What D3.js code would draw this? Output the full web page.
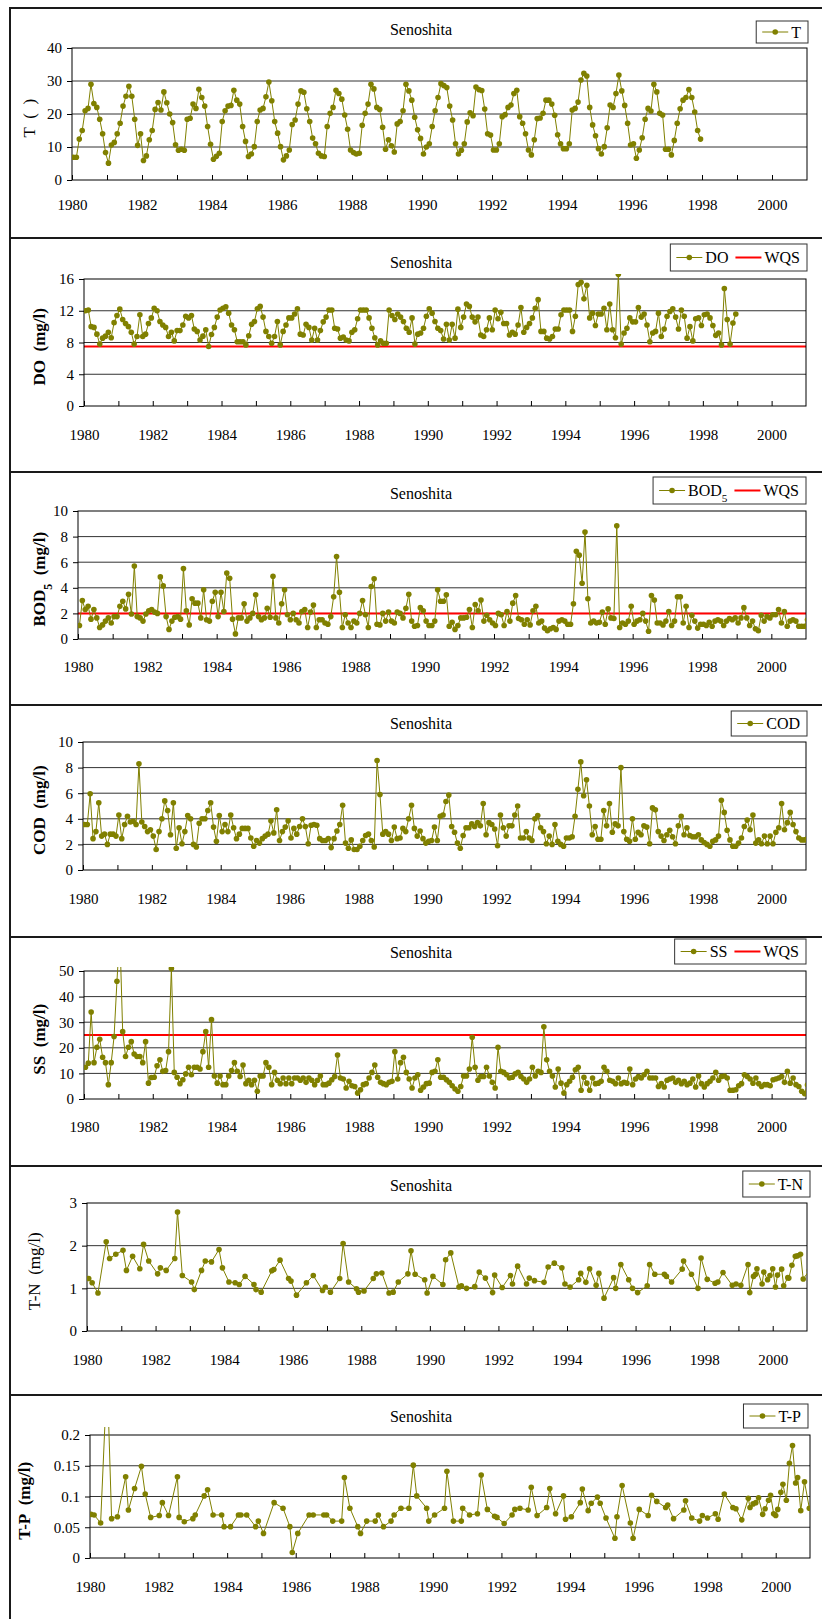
<!DOCTYPE html>
<html>
<head>
<meta charset="utf-8">
<script src="https://cdn.jsdelivr.net/npm/d3@7"></script>
<style>
  body { margin: 0; background: #fff; }
</style>
</head>
<body>
<svg id="chart"></svg>
<script>
// monthly water temperature, Jan 1980 - Dec 1997
let tempT = [
  6.9, 6.9, 12.4, 15, 21, 21.7, 29, 23.2, 22, 18.4, 14, 8.3,
  5.1, 10.6, 11.4, 14, 17.2, 22.4, 25.4, 28.4, 25.4, 18.4, 10.5, 14,
  5.9, 7.3, 12.2, 15, 21.4, 23.5, 21.2, 26.7, 23.4, 20, 17.4, 10.7,
  9, 9.3, 9, 18.4, 18.7, 23, 21.7, 27.5, 25, 22.4, 16.2, 10.8,
  6.3, 7.2, 8.1, 17.7, 21, 22.4, 22.6, 27.2, 24.2, 23, 16.2, 11.7,
  7.1, 7.9, 10.1, 17.7, 21.2, 21.7, 25.2, 29.7, 24, 17.7, 14.2, 10.1,
  6.1, 7.3, 9.1, 16.8, 18.2, 23, 27, 26.6, 21.6, 17.7, 12.7, 11,
  8.1, 7.3, 7.1, 16.2, 20.2, 22, 27.2, 26.2, 24.5, 19.7, 15.4, 9.1,
  8.3, 7.9, 8.1, 16.6, 20.2, 23, 29, 27.6, 22, 21.4, 16, 9.3,
  12.2, 10.4, 8.5, 17, 17.7, 21, 29, 27, 24.2, 19, 15.2, 12.6,
  7.9, 10, 11, 16.2, 21, 25, 29.2, 28.6, 28, 22.4, 18.2, 11,
  7.9, 9, 11, 17.6, 20.4, 19.5, 28.2, 27.4, 27.1, 21.5, 14, 13.6,
  9.1, 9.1, 11, 19.2, 19.8, 22, 22.7, 26.2, 27.2, 19.2, 17.2, 14,
  9.1, 7.6, 12.2, 18.6, 18.8, 20.2, 24.2, 24.2, 23, 19.6, 13.7, 11,
  9.5, 9.5, 11, 21.2, 21.7, 23.6, 30.3, 32.3, 31.5, 22, 16.7, 13.4,
  9.5, 7.9, 10.1, 15.8, 22.7, 22, 26.2, 31.8, 27, 22.6, 17.2, 10.6,
  11, 6.6, 9.1, 12.8, 18.4, 21.7, 20.9, 29, 26.7, 20.2, 19.7, 9.3,
  9.3, 7.6, 12, 17.2, 21.6, 24.2, 25, 27.4, 25, 20.6, 15, 12.4
]

// monthly DO (mg/l), Jan 1980 - Dec 1998
let doVals = [
  12.0, 12.1, 10.0, 9.9, 9.05, 7.8, 8.55, 8.8, 9.3, 8.6, 10.5, 11.4,
  12.2, 10.9, 10.4, 10.0, 9.3, 7.8, 8.75, 11.5, 8.75, 9.05, 10.4, 11.1,
  12.3, 12.0, 10.65, 10.2, 9.9, 8.75, 9.3, 8.2, 9.5, 9.5, 10.2, 11.3,
  11.1, 11.4, 9.7, 9.4, 8.3, 8.8, 9.6, 7.5, 9.0, 9.9, 11.2, 12.1,
  12.3, 12.5, 11.7, 10.2, 9.6, 8.1, 8.1, 8.1, 7.7, 8.85, 10.3, 10.65,
  12.25, 12.55, 11.2, 9.4, 8.75, 7.9, 8.75, 10.65, 7.7, 9.4, 10.2, 11.1,
  11.1, 11.6, 12.25, 9.05, 8.95, 10.3, 9.9, 8.3, 9.8, 8.3, 9.5, 10.6,
  11.2, 12.1, 12.1, 9.8, 9.7, 8.55, 8.7, 8.3, 8.2, 9.3, 9.6, 11.0,
  12.1, 12.1, 12.1, 11.1, 9.8, 8.6, 7.7, 8.2, 7.9, 7.9, 12.1, 11.4,
  10.9, 11.6, 11.2, 10.65, 9.8, 9.3, 11.1, 7.8, 9.05, 9.2, 9.8, 11.3,
  12.25, 11.7, 10.65, 9.8, 9.5, 8.45, 10.3, 8.3, 10.3, 8.55, 12.2, 9.9,
  11.2, 12.85, 12.55, 11.2, 10.6, 11.2, 8.95, 8.75, 9.6, 11.1, 9.6, 12.1,
  11.0, 11.8, 10.4, 10.4, 8.95, 9.3, 9.05, 10.2, 12.4, 9.3, 9.9, 10.4,
  11.1, 12.3, 13.4, 9.4, 9.4, 8.55, 8.45, 8.75, 9.7, 9.7, 11.5, 12.1,
  12.1, 12.1, 9.4, 11.3, 15.3, 15.6, 13.5, 15.2, 11.1, 11.7, 10.15, 11.6,
  11.6, 12.3, 9.6, 12.85, 9.6, 8.6, 16.6, 7.8, 9.2, 9.8, 11.1, 10.6,
  10.6, 12.4, 11.2, 11.6, 10.2, 8.1, 9.2, 9.4, 11.7, 8.75, 9.7, 11.3,
  11.9, 12.25, 11.2, 9.7, 12.1, 11.3, 8.55, 10.0, 8.2, 11.0, 11.1, 10.15,
  11.5, 11.6, 11.1, 10.15, 8.9, 9.2, 7.7, 14.8, 10.9, 7.8, 10.45, 11.6
]

// monthly BOD5 (mg/l), Jan 1980 - Jan 2001
let bodVals = [
  1.06, 3.0, 2.3, 2.55, 1.55, 2.3, 1.65, 0.9, 1.1, 1.4, 1.65, 1.25,
  1.75, 1.75, 2.55, 2.95, 2.35, 3.5, 1.95, 5.7, 1.75, 1.65, 1.4, 1.95,
  2.2, 2.3, 2.1, 2.0, 4.85, 4.15, 1.75, 0.75, 1.4, 1.7, 1.75, 1.55,
  5.5, 2.2, 1.1, 3.15, 2.8, 2.8, 1.65, 3.85, 1.5, 1.4, 2.95, 3.65,
  1.75, 3.65, 2.15, 5.15, 4.75, 1.55, 0.4, 1.65, 1.65, 2.75, 1.4, 1.65,
  2.0, 3.45, 1.75, 1.5, 1.65, 2.4, 1.7, 4.9, 1.65, 1.25, 2.75, 3.85,
  1.9, 1.5, 2.0, 1.5, 1.25, 2.15, 2.3, 0.9, 2.1, 2.65, 0.9, 1.5,
  1.5, 1.25, 1.15, 1.75, 3.3, 6.45, 3.65, 0.9, 1.9, 1.25, 0.9, 1.4,
  1.25, 2.0, 3.0, 1.9, 0.9, 4.1, 4.7, 1.15, 1.1, 2.0, 1.4, 2.1,
  1.4, 1.25, 2.1, 2.0, 1.65, 2.4, 3.5, 1.4, 1.0, 1.05, 2.45, 2.2,
  1.4, 1.05, 1.05, 1.4, 3.85, 2.95, 2.95, 3.45, 1.0, 1.3, 0.75, 1.05,
  1.65, 1.65, 1.7, 2.3, 0.9, 2.7, 2.2, 3.05, 1.4, 1.85, 1.5, 1.25,
  1.05, 2.0, 1.9, 1.05, 2.15, 1.4, 2.8, 3.4, 1.6, 1.5, 1.15, 1.5,
  1.1, 2.2, 2.55, 1.25, 1.4, 0.85, 0.65, 0.8, 0.9, 0.75, 1.4, 1.5,
  1.4, 1.15, 1.15, 2.75, 6.85, 6.55, 4.35, 8.35, 3.15, 1.25, 1.4, 1.25,
  1.3, 2.1, 1.15, 2.35, 1.65, 1.6, 8.85, 0.9, 1.25, 1.15, 1.4, 2.55,
  1.15, 1.4, 1.5, 2.0, 1.4, 0.6, 3.4, 3.05, 1.25, 1.25, 1.1, 1.4,
  2.15, 1.05, 1.4, 3.3, 3.3, 1.25, 2.55, 0.9, 1.85, 1.4, 0.85, 1.15,
  1.15, 1.05, 1.3, 1.0, 1.4, 1.5, 1.4, 1.05, 1.4, 1.6, 1.5, 1.65,
  1.25, 1.65, 2.45, 1.65, 1.05, 1.4, 0.8, 0.65, 1.85, 1.4, 1.75, 1.65,
  1.9, 1.9, 2.3, 1.25, 2.15, 1.0, 1.4, 1.5, 1.4, 1.0, 1.0, 1.0,
  1.5
]

// monthly COD (mg/l), Jan 1980 - Jan 2001
let codVals = [
  3.55, 3.55, 5.95, 2.45, 3.0, 5.25, 2.65, 2.8, 2.0, 2.8, 2.8, 2.65,
  4.3, 2.45, 3.55, 4.2, 3.75, 3.8, 3.55, 8.3, 3.75, 3.4, 3.0, 3.15,
  2.65, 1.6, 3.0, 4.0, 5.4, 4.65, 2.75, 5.25, 1.7, 3.3, 2.05, 3.0,
  4.25, 4.0, 2.0, 1.8, 3.65, 4.0, 4.0, 4.65, 5.25, 3.35, 2.25, 4.25,
  3.0, 3.55, 3.0, 4.3, 3.3, 2.45, 2.8, 3.25, 3.25, 3.25, 2.5, 1.85,
  2.3, 2.1, 2.45, 2.65, 2.8, 3.85, 2.9, 4.7, 2.3, 3.0, 3.35, 3.85,
  2.5, 3.25, 2.8, 3.4, 4.0, 3.4, 2.05, 3.5, 3.55, 3.5, 2.45, 2.3,
  2.3, 2.45, 1.75, 2.45, 3.05, 3.55, 5.05, 2.1, 1.7, 2.35, 1.6, 1.6,
  1.85, 2.3, 2.7, 2.8, 2.3, 1.8, 8.55, 5.9, 2.8, 3.0, 2.8, 2.3,
  3.35, 2.45, 2.5, 3.25, 3.0, 4.0, 5.05, 3.25, 2.65, 3.05, 2.45, 2.1,
  2.25, 2.3, 3.35, 2.3, 4.2, 4.3, 5.35, 5.85, 3.4, 2.95, 2.1, 1.7,
  2.7, 3.3, 3.3, 3.6, 3.4, 3.7, 3.45, 5.2, 2.75, 3.7, 3.55, 3.2,
  1.9, 4.3, 3.3, 2.65, 3.45, 3.45, 4.3, 5.0, 2.5, 2.5, 3.0, 2.5,
  2.3, 4.0, 4.25, 3.3, 3.0, 2.05, 2.65, 2.0, 3.55, 2.25, 2.0, 1.85,
  2.5, 2.5, 2.6, 4.2, 6.3, 8.45, 5.8, 7.05, 5.0, 2.75, 3.4, 2.4,
  2.4, 4.65, 3.45, 5.2, 2.95, 3.6, 3.45, 8.0, 3.0, 2.4, 2.25, 4.0,
  2.4, 2.95, 2.75, 3.45, 3.35, 2.05, 4.85, 4.7, 3.0, 2.65, 2.3, 2.75,
  3.1, 2.6, 2.05, 3.45, 4.2, 2.75, 3.3, 2.7, 2.6, 2.6, 2.75, 2.35,
  2.15, 2.0, 1.85, 2.25, 2.35, 2.65, 5.45, 4.5, 3.1, 2.35, 1.85, 1.85,
  2.1, 2.5, 3.4, 3.9, 3.15, 4.3, 2.1, 2.35, 2.05, 2.65, 2.05, 2.65,
  2.05, 2.95, 3.3, 5.2, 3.15, 3.7, 4.5, 3.55, 3.0, 2.5, 2.35, 2.35,
  2.45
]

// monthly SS (mg/l), Jan 1980 - Jan 2001
let ssVals = [
  12.4, 14, 34, 14.2, 20.2, 23.3, 16.3, 14.2, 5.6, 14.2, 24.4, 46,
  65, 26.3, 16.6, 20.2, 22.4, 17.6, 16.6, 16.6, 14.2, 22.4, 6.2, 8.4,
  8.5, 13, 15.3, 10.8, 11.1, 18.5, 51, 10.4, 8.5, 6, 7.5, 9.8,
  12.4, 9.5, 12.4, 12.4, 11.7, 18.5, 26.3, 12.4, 31, 9, 6.2, 9,
  5.6, 5.6, 9, 11.1, 14.2, 10.8, 8.8, 13.3, 6, 7.3, 5.6, 7.3,
  3, 9, 9, 14.2, 12.4, 5.6, 10.4, 7.3, 6, 8.2, 6, 8.2,
  6, 8.2, 8.2, 7.3, 8.2, 6.5, 8.2, 7.3, 5.6, 7.3, 9, 5.6,
  5.6, 6.2, 7.5, 8.8, 17.2, 8.2, 7.8, 4.3, 6.9, 5.2, 4.9, 2.3,
  3.6, 5.6, 6, 8.2, 10.4, 13.3, 8.5, 6.5, 6, 5.6, 6.5, 6.9,
  18.5, 7.8, 14.2, 16.3, 10.4, 7.8, 4.3, 8.2, 9.5, 3.4, 4.7, 6,
  6.2, 10.4, 10.8, 15.3, 8.5, 8.5, 7.5, 6.5, 5.2, 3.9, 3, 4.9,
  9, 9, 11.7, 24.1, 12.4, 7.3, 8.8, 8.8, 12.4, 9, 6.5, 4.3,
  20.2, 10.8, 10.4, 9.5, 8.2, 8.5, 9.8, 10.4, 8.8, 7.8, 6.5, 7.8,
  12.4, 9, 10.8, 10.4, 28.2, 15.3, 10.8, 9, 4.7, 11.7, 6.2, 2.3,
  5.6, 6.9, 8.5, 11.4, 12.4, 3.4, 8.5, 6.2, 3.4, 8.2, 6, 6.2,
  6.9, 12.4, 10.8, 7.3, 6.9, 6, 8.2, 6, 6.5, 6.2, 11.7, 5.6,
  7.8, 8.8, 8.2, 9.5, 10.8, 8.2, 8.2, 8.2, 4.9, 6, 4.7, 7.3,
  7.8, 8.2, 6.5, 7.3, 6, 6.9, 5.6, 6.2, 7.8, 4.7, 9, 6,
  4.7, 6, 6.9, 8.2, 10.4, 7.3, 8.8, 9, 8.2, 3.4, 3.4, 3.6,
  5.2, 6, 9.5, 8.8, 7.8, 6.2, 8.2, 6, 4.9, 5.6, 5.6, 5.2,
  7.5, 7.8, 8.2, 8.8, 6.5, 10.8, 6.2, 8.2, 5.6, 4.9, 3, 2.1,
  5.5
]

// T-N (mg/l), irregular sampling: [decimal year, value]
let tnData = [
  [1980.05, 1.23], [1980.15, 1.13], [1980.32, 0.89], [1980.56, 2.09], [1980.66, 1.70], [1980.84, 1.80],
  [1981.05, 1.89], [1981.15, 1.42], [1981.33, 1.75], [1981.54, 1.46], [1981.65, 2.03], [1981.80, 1.64],
  [1982.06, 1.34], [1982.14, 1.48], [1982.31, 1.42], [1982.56, 1.70], [1982.64, 2.79], [1982.78, 1.30],
  [1983.05, 1.15], [1983.13, 0.97], [1983.34, 1.42], [1983.45, 1.64], [1983.63, 1.62], [1983.85, 1.91], [1983.95, 1.48],
  [1984.14, 1.15], [1984.32, 1.13], [1984.44, 1.09], [1984.61, 1.28], [1984.87, 1.09], [1984.93, 0.97],
  [1985.08, 0.91], [1985.39, 1.41], [1985.45, 1.44], [1985.63, 1.66], [1985.88, 1.23], [1985.95, 1.17],
  [1986.11, 0.84], [1986.40, 1.13], [1986.60, 1.30], [1986.87, 0.95], [1986.95, 1.03],
  [1987.10, 0.91], [1987.37, 1.23], [1987.47, 2.05], [1987.63, 1.15], [1987.86, 0.99], [1987.92, 0.91],
  [1988.08, 0.94], [1988.35, 1.23], [1988.44, 1.34], [1988.60, 1.36], [1988.81, 0.89], [1988.93, 0.91],
  [1989.08, 1.15], [1989.36, 1.34], [1989.45, 1.88], [1989.57, 1.33], [1989.85, 1.20], [1989.92, 0.89],
  [1990.09, 1.28], [1990.38, 1.09], [1990.46, 1.67], [1990.61, 1.83], [1990.85, 1.03], [1990.92, 1.06],
  [1991.07, 1.00], [1991.31, 1.04], [1991.44, 1.38], [1991.62, 1.24], [1991.83, 0.90], [1991.89, 1.31],
  [1992.11, 1.02], [1992.35, 1.30], [1992.41, 1.10], [1992.56, 1.52], [1992.82, 1.10], [1992.90, 1.24],
  [1993.05, 1.18], [1993.33, 1.14], [1993.45, 1.50], [1993.63, 1.59], [1993.85, 1.48], [1993.94, 1.10],
  [1994.09, 1.03], [1994.34, 1.20], [1994.40, 1.35], [1994.55, 1.14], [1994.66, 1.46], [1994.85, 1.07], [1994.93, 1.35],
  [1995.08, 0.77], [1995.36, 1.25], [1995.42, 1.00], [1995.57, 1.56], [1995.80, 1.20], [1995.91, 1.00],
  [1996.06, 0.90], [1996.34, 1.06], [1996.41, 1.56], [1996.56, 1.33], [1996.84, 1.33], [1996.90, 1.28],
  [1997.05, 1.15], [1997.36, 1.45], [1997.40, 1.64], [1997.63, 1.33], [1997.82, 1.00], [1997.91, 1.71],
  [1998.09, 1.21], [1998.32, 1.12], [1998.40, 1.15], [1998.55, 1.37], [1998.82, 1.07], [1998.93, 1.10],
  [1999.07, 1.07], [1999.28, 1.56], [1999.33, 0.90], [1999.44, 1.28], [1999.50, 1.33], [1999.54, 1.46],
  [1999.69, 1.10], [1999.74, 1.38], [1999.85, 1.20], [1999.92, 1.30],
  [2000.00, 1.46], [2000.08, 1.03], [2000.14, 1.31], [2000.26, 1.45], [2000.32, 1.06], [2000.44, 1.25],
  [2000.47, 1.24], [2000.56, 1.54], [2000.66, 1.75], [2000.72, 1.76], [2000.81, 1.80], [2000.89, 1.22],
  [2001.07, 1.42]
]

// T-P (mg/l), irregular sampling: [decimal year, value]
let tpData = [
  [1980.03, 0.071], [1980.12, 0.070], [1980.31, 0.057], [1980.50, 0.30], [1980.63, 0.064], [1980.80, 0.067],
  [1981.04, 0.132], [1981.12, 0.078], [1981.30, 0.113], [1981.50, 0.149], [1981.61, 0.104], [1981.77, 0.066],
  [1982.02, 0.069], [1982.11, 0.090], [1982.29, 0.069], [1982.55, 0.132], [1982.60, 0.066], [1982.75, 0.059],
  [1983.00, 0.064], [1983.07, 0.070], [1983.33, 0.101], [1983.43, 0.111], [1983.59, 0.070], [1983.84, 0.070], [1983.91, 0.051],
  [1984.10, 0.051], [1984.33, 0.070], [1984.40, 0.070], [1984.57, 0.070], [1984.83, 0.051], [1984.91, 0.060],
  [1985.06, 0.040], [1985.37, 0.090], [1985.63, 0.081], [1985.83, 0.051], [1985.90, 0.009],
  [1986.06, 0.040], [1986.39, 0.070], [1986.51, 0.070], [1986.82, 0.070], [1986.90, 0.070],
  [1987.08, 0.060], [1987.34, 0.060], [1987.42, 0.131], [1987.58, 0.081], [1987.81, 0.051], [1987.89, 0.040],
  [1988.07, 0.060], [1988.32, 0.060], [1988.41, 0.070], [1988.56, 0.051], [1988.78, 0.060], [1988.87, 0.070],
  [1989.07, 0.081], [1989.30, 0.081], [1989.43, 0.151], [1989.53, 0.101], [1989.82, 0.081], [1989.88, 0.060],
  [1990.05, 0.070], [1990.34, 0.081], [1990.41, 0.141], [1990.60, 0.060], [1990.83, 0.060], [1990.87, 0.081],
  [1991.07, 0.070], [1991.30, 0.072], [1991.41, 0.135], [1991.59, 0.079], [1991.80, 0.068], [1991.87, 0.066],
  [1992.08, 0.056], [1992.31, 0.070], [1992.39, 0.079], [1992.54, 0.081], [1992.78, 0.078], [1992.87, 0.115],
  [1993.04, 0.069], [1993.32, 0.082], [1993.41, 0.113], [1993.58, 0.072], [1993.81, 0.101], [1993.87, 0.063],
  [1994.04, 0.067], [1994.30, 0.090], [1994.36, 0.112], [1994.53, 0.077], [1994.62, 0.089], [1994.80, 0.099], [1994.88, 0.089],
  [1995.05, 0.065], [1995.31, 0.032], [1995.37, 0.067], [1995.52, 0.118], [1995.76, 0.057], [1995.84, 0.032],
  [1996.02, 0.079], [1996.28, 0.069], [1996.38, 0.102], [1996.53, 0.092], [1996.79, 0.082], [1996.85, 0.086],
  [1997.02, 0.064], [1997.32, 0.078], [1997.37, 0.093], [1997.55, 0.065], [1997.78, 0.060], [1997.86, 0.069],
  [1998.01, 0.065], [1998.24, 0.072], [1998.32, 0.063], [1998.50, 0.104], [1998.75, 0.082], [1998.84, 0.080],
  [1999.01, 0.062], [1999.20, 0.097], [1999.25, 0.082], [1999.34, 0.088], [1999.42, 0.090], [1999.50, 0.098],
  [1999.62, 0.071], [1999.69, 0.080], [1999.79, 0.094], [1999.85, 0.102], [1999.94, 0.072],
  [2000.00, 0.069], [2000.06, 0.079], [2000.15, 0.107], [2000.21, 0.120], [2000.31, 0.094], [2000.40, 0.154],
  [2000.49, 0.183], [2000.58, 0.122], [2000.64, 0.131], [2000.73, 0.077], [2000.84, 0.124], [2000.98, 0.081]
]

// water quality standards
let wqsDO = 7.5
let wqsBOD = 2
let wqsSS = 25

let yearDomain = [1980, 2001]
let stationName = 'Senoshita'
let mgl = ['(mg/l)']

let olive = '#808000'
let red = '#ff0000'
let serif = "'Liberation Serif', 'Times New Roman', 'Noto Sans CJK JP'"

function monthly (values) {
  return values.map((v, i) => ({t: 1980 + (i + 0.5) / 12, v: v}))
}

function pairs (list) {
  return list.map(d => ({t: d[0], v: d[1]}))
}

// layout of the seven stacked panels
let panels = [
  {data: monthly(tempT), yMax: 40, yStep: 10, frame: [8, 238], plot: [72, 48, 807, 180],
    titleY: 29, xPad: 19, yTitleX: 29, yName: 'T', yUnit: ['(', ')'], bold: false,
    legend: [['T', 'series']], legendBox: [808, 21, 22], over: 4},
  {data: monthly(doVals), yMax: 16, yStep: 4, wqs: wqsDO, frame: [238, 472], plot: [84, 279, 806, 406],
    titleY: 262, xPad: 23, yTitleX: 39, yName: 'DO', yUnit: mgl, bold: true,
    legend: [['DO', 'series'], ['WQS', 'wqs']], legendBox: [807, 244, 27], over: 5},
  {data: monthly(bodVals), yMax: 10, yStep: 2, wqs: wqsBOD, frame: [472, 705], plot: [78, 511, 806, 639],
    titleY: 493, xPad: 22, yTitleX: 39, yName: 'BOD_5', yUnit: mgl, bold: true,
    legend: [['BOD_5', 'series'], ['WQS', 'wqs']], legendBox: [806, 477, 27], over: 4},
  {data: monthly(codVals), yMax: 10, yStep: 2, frame: [705, 937], plot: [83, 742, 806, 870],
    titleY: 723, xPad: 23, yTitleX: 39, yName: 'COD', yUnit: mgl, bold: true,
    legend: [['COD', 'series']], legendBox: [807, 711, 25], over: 4},
  {data: monthly(ssVals), yMax: 50, yStep: 10, wqs: wqsSS, frame: [937, 1166], plot: [84, 971, 806, 1099],
    titleY: 952, xPad: 22, yTitleX: 39, yName: 'SS', yUnit: mgl, bold: true,
    legend: [['SS', 'series'], ['WQS', 'wqs']], legendBox: [806, 939, 25], over: 4},
  {data: pairs(tnData), yMax: 3, yStep: 1, frame: [1166, 1395], plot: [87, 1203, 807, 1331],
    titleY: 1185, xPad: 23, yTitleX: 34, yName: 'T-N', yUnit: mgl, bold: false,
    legend: [['T-N', 'series']], legendBox: [810, 1171, 26], over: 4},
  {data: pairs(tpData), yMax: 0.2, yStep: 0.05, frame: [1395, 1630], plot: [90, 1435, 810, 1558],
    titleY: 1416, xPad: 23, yTitleX: 24, yName: 'T-P', yUnit: mgl, bold: true, fmt: d => d3.format('.2~f')(d),
    legend: [['T-P', 'series']], legendBox: [808, 1404, 24], over: 8}
]

// write a label, "_5" becomes a subscript
function setLabel (sel, str) {
  let parts = str.split('_')
  sel.append('tspan').text(parts[0])
  if (parts.length > 1) {
    sel.append('tspan').attr('baseline-shift', 'sub').attr('font-size', '70%').text(parts[1][0])
    if (parts[1].length > 1) sel.append('tspan').text(parts[1].slice(1))
  }
}

function drawLegend (g, p) {
  let lg = g.append('g')
  let box = lg.append('rect')
  let h = p.legendBox[2]
  let pos = 6
  p.legend.forEach(function (item) {
    let col = item[1] === 'wqs' ? red : olive
    lg.append('line')
      .attr('x1', pos).attr('x2', pos + 26)
      .attr('y1', h / 2).attr('y2', h / 2)
      .attr('stroke', col)
      .attr('stroke-width', item[1] === 'wqs' ? 2 : 1)
    if (item[1] === 'series') {
      lg.append('circle').attr('cx', pos + 13).attr('cy', h / 2).attr('r', 2.8).attr('fill', olive)
    }
    let t = lg.append('text')
      .attr('x', pos + 29).attr('y', h / 2)
      .attr('dy', '0.35em')
      .attr('font-size', 16)
      .attr('font-family', serif)
    setLabel(t, item[0])
    pos += 29 + t.node().getComputedTextLength() + 7
  })
  box.attr('width', pos).attr('height', h)
    .attr('fill', '#fff').attr('stroke', '#333').attr('stroke-width', 1)
  lg.attr('transform', 'translate(' + (p.legendBox[0] - pos) + ',' + p.legendBox[1] + ')')
}

// rotated axis title; the unit brackets are set wide apart, Japanese style
function drawYTitle (g, p) {
  let [x0, y0, x1, y1] = p.plot
  let size = 17
  let yg = g.append('g')
    .attr('transform', 'translate(' + p.yTitleX + ',' + (y0 + y1) / 2 + ') rotate(-90)')
  let yt = yg.append('text')
    .attr('dy', '0.35em')
    .attr('font-size', size)
    .attr('font-family', serif)
    .attr('font-weight', p.bold ? 'bold' : 'normal')
  setLabel(yt, p.yName)
  p.yUnit.forEach(u => yt.append('tspan').attr('dx', size / 2).text(u))
  let w = yt.node().getBBox().width
  yt.attr('x', -(w + size / 2) / 2)
}

function drawPanel (svg, p, idx) {
  let [x0, y0, x1, y1] = p.plot
  let x = d3.scaleLinear().domain(yearDomain).range([x0, x1])
  let y = d3.scaleLinear().domain([0, p.yMax]).range([y1, y0])
  let g = svg.append('g')
  let ticks = d3.range(0, p.yMax + p.yStep / 2, p.yStep)

  // panel frame
  g.append('rect')
    .attr('x', 10).attr('y', p.frame[0])
    .attr('width', 820).attr('height', p.frame[1] - p.frame[0])
    .attr('fill', 'none').attr('stroke', '#1a1a1a').attr('stroke-width', 2)

  g.append('text')
    .attr('x', 421).attr('y', p.titleY)
    .attr('dy', '0.35em')
    .attr('text-anchor', 'middle')
    .attr('font-size', 16)
    .attr('font-family', serif)
    .text(stationName)

  // gridlines
  g.selectAll('.grid').data(ticks.slice(1, -1)).enter().append('line')
    .attr('x1', x0).attr('x2', x1)
    .attr('y1', d => y(d)).attr('y2', d => y(d))
    .attr('stroke', '#333').attr('stroke-width', 1)

  if (p.wqs != null) {
    g.append('line')
      .attr('x1', x0).attr('x2', x1)
      .attr('y1', y(p.wqs)).attr('y2', y(p.wqs))
      .attr('stroke', red).attr('stroke-width', 2)
  }

  g.append('rect')
    .attr('x', x0).attr('y', y0)
    .attr('width', x1 - x0).attr('height', y1 - y0)
    .attr('fill', 'none').attr('stroke', '#000').attr('stroke-width', 1)

  let yAxis = d3.axisLeft(y)
    .tickValues(ticks)
    .tickSize(5)
    .tickPadding(5)
    .tickFormat(p.fmt || d3.format('d'))
  g.append('g')
    .attr('transform', 'translate(' + x0 + ',0)')
    .call(yAxis)
    .call(a => a.select('.domain').remove())
    .attr('font-size', 15)
    .attr('font-family', serif)

  let xAxis = d3.axisBottom(x)
    .tickValues(d3.range(1980, 2001))
    .tickSize(-5)
    .tickPadding(p.xPad)
    .tickFormat(d => d % 2 === 0 ? d : '')
  g.append('g')
    .attr('transform', 'translate(0,' + y1 + ')')
    .call(xAxis)
    .call(a => a.select('.domain').remove())
    .attr('font-size', 15)
    .attr('font-family', serif)

  drawYTitle(g, p)

  // series, clipped to plot area
  let clipId = 'clip' + idx
  svg.append('clipPath').attr('id', clipId)
    .append('rect')
    .attr('x', x0).attr('y', y0 - p.over)
    .attr('width', x1 - x0).attr('height', y1 - y0 + p.over)

  let line = d3.line().x(d => x(d.t)).y(d => y(d.v))
  let sg = g.append('g').attr('clip-path', 'url(#' + clipId + ')')
  sg.append('path')
    .attr('d', line(p.data))
    .attr('fill', 'none')
    .attr('stroke', olive)
    .attr('stroke-width', 1)
  sg.selectAll('circle').data(p.data).enter().append('circle')
    .attr('cx', d => x(d.t))
    .attr('cy', d => y(d.v))
    .attr('r', 2.8)
    .attr('fill', olive)

  drawLegend(g, p)
}

let svg = d3.select('#chart')
  .attr('width', 822)
  .attr('height', 1619)

panels.forEach((p, i) => drawPanel(svg, p, i))
</script>
</body>
</html>
